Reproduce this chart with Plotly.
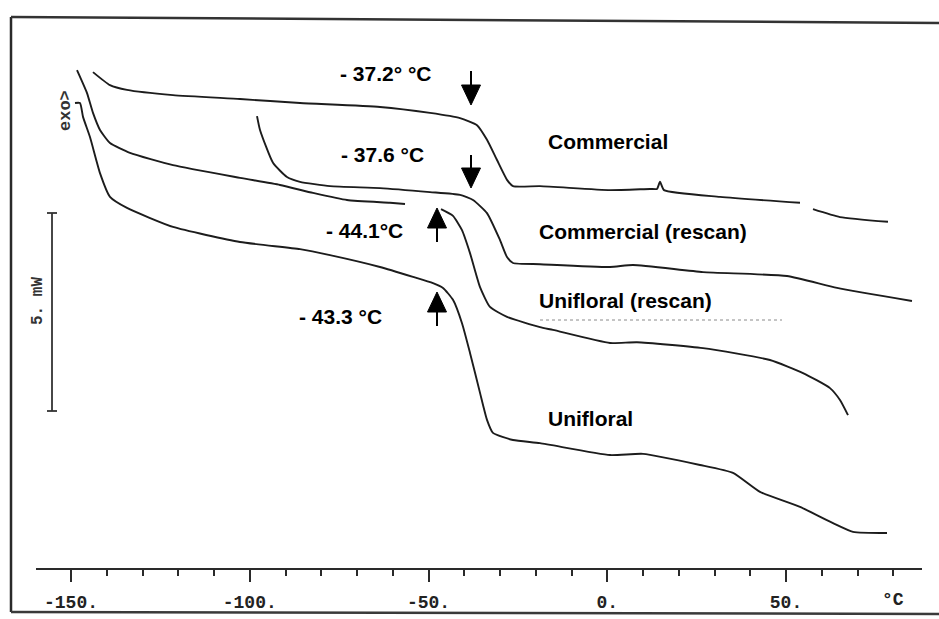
import plotly.graph_objects as go

# ---------------- data (temperature in °C, heat flow in mW, arbitrary offset) -------------
commercial_T = [-143.85, -139.09, -134.34, -121.47, -102.73, -85.94, -63.57, -49.58, -41.19, -36.43,
                -33.64, -30.84, -28.04, -26.36, -18.81, 0.77, 11.96, 13.92, 14.76, 15.87, 31.54, 53.92,
                None, 57.55, 65.10, 78.53]
commercial_Q = [13.81, 13.48, 13.36, 13.23, 13.13, 13.03, 12.93, 12.78, 12.65, 12.47,
                12.10, 11.59, 11.09, 10.93, 10.93, 10.83, 10.86, 10.86, 11.04, 10.83, 10.66, 10.51,
                None, 10.35, 10.15, 10.03]

commercial_rescan_T = [-97.97, -97.13, -93.50, -89.58, -85.94, -77.55, -63.57, -49.58, -41.19, -37.55,
                       -33.64, -30.00, -28.04, -26.36, -18.81, 0.77, 7.20, 26.78, 50.28, 64.27, 85.24]
commercial_rescan_Q = [12.70, 12.35, 11.52, 11.16, 11.04, 10.93, 10.88, 10.78, 10.71, 10.58,
                       10.25, 9.57, 9.14, 8.99, 8.96, 8.89, 8.94, 8.76, 8.66, 8.36, 8.03]

unifloral_rescan_T = [-148.32, -145.52, -143.85, -141.89, -139.09, -133.50, -121.47, -102.73, -91.54,
                      -82.31, -72.80, -60.77, -56.57, None, -46.50, -43.15, -40.63, -38.39, -35.59,
                      -32.80, -28.04, -18.81, -15.17, 0.77, 8.32, 26.78, 45.52, 54.76, 62.31, 65.10, 67.34]
unifloral_rescan_Q = [13.86, 13.28, 12.78, 12.35, 12.02, 11.77, 11.46, 11.14, 10.96,
                      10.76, 10.58, 10.51, 10.48, None, 10.35, 10.18, 9.82, 9.24, 8.38,
                      7.88, 7.63, 7.37, 7.30, 6.97, 6.99, 6.84, 6.54, 6.21, 5.83, 5.53, 5.15]

unifloral_T = [-148.88, -147.48, -146.64, -144.69, -141.89, -139.09, -134.34, -121.47, -102.73, -85.94,
               -77.55, -63.57, -54.34, -48.74, -45.94, -43.15, -40.63, -38.39, -35.59, -33.64, -31.96,
               -26.36, -18.81, 0.77, 10.00, 25.94, 35.17, 42.73, 53.92, 63.15, 68.74, 78.25]
unifloral_Q = [13.03, 13.03, 12.68, 12.17, 11.26, 10.66, 10.38, 9.90, 9.52, 9.34,
               9.19, 8.89, 8.64, 8.48, 8.36, 8.06, 7.47, 6.72, 5.71, 5.03, 4.70,
               4.52, 4.44, 4.14, 4.17, 3.89, 3.69, 3.21, 2.83, 2.42, 2.20, 2.17]

tick_values = [-150, -100, -50, 0, 50]
tick_labels = ["-150.", "-100.", "-50.", "0.", "50."]

series_names = ["Commercial", "Commercial (rescan)", "Unifloral (rescan)", "Unifloral"]
tg_labels = ["- 37.2° °C", "- 37.6 °C", "- 44.1°C", "- 43.3 °C"]
scale_bar_mW = 5.0

# ---------------- layout geometry (pixels of a 939 x 619 page) ----------------
W, H = 939, 619


def fx(p):
    return p / W


def fy(p):
    return 1 - p / H


PX_PER_DEG = 3.575
PX_PER_MW = 39.6


def t_at(px):
    return (px - 71) / PX_PER_DEG - 150


INK = "#1c1c1c"

fig = go.Figure()
for T, Q, name in [(commercial_T, commercial_Q, series_names[0]),
                   (commercial_rescan_T, commercial_rescan_Q, series_names[1]),
                   (unifloral_rescan_T, unifloral_rescan_Q, series_names[2]),
                   (unifloral_T, unifloral_Q, series_names[3])]:
    fig.add_trace(go.Scatter(x=T, y=Q, mode="lines", name=name, connectgaps=False,
                             line=dict(color=INK, width=1.9, shape="spline", smoothing=0.5),
                             hoverinfo="skip", showlegend=False))

mono = "Liberation Mono, DejaVu Sans Mono, monospace"
sans = "Liberation Sans, Arial, sans-serif"

annotations = []


def label(text, x, y, size=21, family=sans, angle=0, color="black"):
    annotations.append(dict(text=text, x=fx(x), y=fy(y), xref="paper", yref="paper",
                            xanchor="center", yanchor="middle", showarrow=False,
                            textangle=angle, font=dict(family=family, size=size, color=color)))


label("<b>" + tg_labels[0] + "</b>", 386, 73)
label("<b>" + tg_labels[1] + "</b>", 382, 154)
label("<b>" + tg_labels[2] + "</b>", 364, 230)
label("<b>" + tg_labels[3] + "</b>", 340, 316)
label("<b>" + series_names[0] + "</b>", 608, 141)
label("<b>" + series_names[1] + "</b>", 643, 232)
label("<b>" + series_names[2] + "</b>", 625, 300)
label("<b>" + series_names[3] + "</b>", 590, 418)
label("<b>°C</b>", 893, 600, size=18, family=mono, color="#222")
label("<b>exo></b>", 66, 111, size=17, family=mono, angle=-90, color="#333")
label("<b>5. mW</b>", 38, 301, size=16, family=mono, angle=-90, color="#333")

shapes = []


def pline(x0, y0, x1, y1, width=2, color=INK, dash="solid"):
    shapes.append(dict(type="line", xref="paper", yref="paper", x0=fx(x0), y0=fy(y0),
                       x1=fx(x1), y1=fy(y1), line=dict(color=color, width=width, dash=dash)))


def arrow(x, tail, tip, head=20, half=9.5):
    d = 1 if tip > tail else -1
    base = tip - d * head
    pline(x, tail, x, base + d * 2, width=2, color="black")
    path = "M {} {} L {} {} L {} {} Z".format(fx(x - half), fy(base), fx(x + half), fy(base),
                                                fx(x), fy(tip))
    shapes.append(dict(type="path", xref="paper", yref="paper", path=path,
                       fillcolor="black", line=dict(color="black", width=1)))


arrow(471, 71, 105)
arrow(471, 155, 188)
arrow(437, 242, 208)
arrow(437, 326, 292)

# frame of the chart paper
pline(11, 17, 11, 612, width=2.5, color="#2a2a2a")
pline(11, 17, 939, 23, width=2.5, color="#333333")
pline(11, 612, 939, 614, width=2.5, color="#3a3a3a")

# dotted guide under the "Unifloral (rescan)" label
pline(540, 320, 782, 320, width=1, color="#8a8a8a", dash="dot")

# 5 mW scale bar, drawn on the heat-flow axis
sb_x = fx(52)
sb_bottom = (H - 411) / PX_PER_MW
for y0, y1, x0, x1 in [(sb_bottom, sb_bottom + scale_bar_mW, sb_x, sb_x),
                       (sb_bottom, sb_bottom, fx(47), fx(57)),
                       (sb_bottom + scale_bar_mW, sb_bottom + scale_bar_mW, fx(47), fx(57))]:
    shapes.append(dict(type="line", xref="paper", yref="y", x0=x0, x1=x1, y0=y0, y1=y1,
                       line=dict(color="#333", width=1.8)))

axis_y_px = 569
fig.update_layout(
    width=W, height=H, autosize=False,
    margin=dict(l=0, r=0, t=0, b=0),
    paper_bgcolor="white", plot_bgcolor="rgba(0,0,0,0)",
    xaxis=dict(domain=[fx(36), fx(922)], range=[t_at(36), t_at(922)],
               anchor="free", position=(H - axis_y_px) / H,
               showline=True, linecolor="#2a2a2a", linewidth=2.2,
               showgrid=False, zeroline=False,
               tickmode="array", tickvals=tick_values, ticktext=tick_labels,
               ticks="outside", ticklen=12, tickwidth=2, tickcolor="#2a2a2a",
               ticklabelstandoff=4,
               minor=dict(dtick=10, tick0=0, ticks="outside", ticklen=6, tickwidth=1.8,
                          tickcolor="#2a2a2a", showgrid=False),
               tickfont=dict(family=mono, size=18, color="#222", weight="bold")),
    yaxis=dict(domain=[0, 1], range=[0, H / PX_PER_MW], visible=False, fixedrange=True),
    annotations=annotations,
    shapes=shapes,
    showlegend=False,
)

fig.write_html("out.html")
